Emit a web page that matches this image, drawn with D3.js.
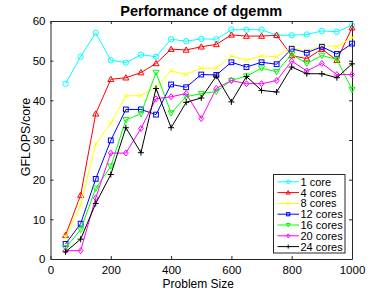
<!DOCTYPE html>
<html>
<head>
<meta charset="utf-8">
<script src="https://cdn.jsdelivr.net/npm/d3@7"></script>
<style>
  html, body { margin: 0; padding: 0; background: #fff; }
  svg { display: block; }
</style>
</head>
<body>
<div id="chart"></div>
<script>
// problem sizes
const sizes = [50, 100, 150, 200, 250, 300, 350, 400, 450, 500,
  550, 600, 650, 700, 750, 800, 850, 900, 950, 1000];

const core1 = [44.2, 51.0, 57.0, 50.1, 49.5, 51.5, 51.0, 55.4, 54.9, 55.5,
  55.4, 57.8, 57.8, 57.8, 56.4, 56.4, 56.6, 57.5, 57.3, 58.9];
const core4 = [6.0, 16.1, 36.6, 45.3, 45.7, 47.0, 49.3, 52.9, 52.7, 53.5,
  54.1, 56.5, 56.2, 56.2, 56.4, 51.3, 50.5, 52.9, 50.1, 58.3];
const core8 = [5.5, 13.7, 29.0, 34.2, 41.1, 41.2, 43.3, 47.4, 46.5, 48.1,
  48.1, 51.2, 50.1, 51.2, 51.0, 53.4, 52.3, 53.9, 53.5, 55.8];
const core12 = [3.8, 8.9, 20.2, 29.9, 37.7, 37.7, 36.4, 44.0, 43.3, 46.5,
  46.4, 49.6, 48.4, 49.6, 49.1, 53.0, 52.0, 53.5, 51.7, 54.3];
const core16 = [2.8, 7.4, 17.8, 23.4, 35.1, 36.6, 47.0, 36.8, 40.9, 41.7,
  42.2, 45.0, 46.1, 48.1, 47.2, 51.6, 49.3, 51.3, 50.3, 42.7];
const core20 = [2.1, 2.1, 15.4, 26.7, 26.7, 32.9, 40.4, 40.9, 41.7, 35.4,
  43.0, 45.0, 44.2, 44.2, 45.0, 49.9, 47.4, 49.3, 46.5, 46.5];
const core24 = [1.8, 5.0, 14.0, 21.3, 33.1, 26.8, 43.0, 33.1, 39.5, 40.6,
  46.1, 39.6, 46.0, 42.5, 42.1, 48.4, 46.7, 46.7, 45.7, 49.2];

const seriesNames = ["1 core", "4 cores", "8 cores", "12 cores", "16 cores", "20 cores", "24 cores"];
const seriesValues = [core1, core4, core8, core12, core16, core20, core24];
const seriesColors = ["#00ffff", "#ff0000", "#ffff00", "#0000ff", "#00ff00", "#ff00ff", "#000000"];
const seriesMarkers = ["circle", "triUp", "cross", "square", "triDown", "diamond", "plus"];

const xTicks = [0, 200, 400, 600, 800, 1000];
const yTicks = [0, 10, 20, 30, 40, 50, 60];

const W = 389, H = 292;
const margin = { top: 21, right: 37, bottom: 33, left: 50.5 };
const fontFamily = '"Liberation Sans", Arial, Helvetica, sans-serif';

const svg = d3.select("#chart").append("svg")
  .attr("width", W).attr("height", H)
  .style("font-family", fontFamily);

svg.append("rect").attr("width", W).attr("height", H).attr("fill", "#fff");

const x = d3.scaleLinear().domain([0, 1000]).range([margin.left, W - margin.right]);
const y = d3.scaleLinear().domain([0, 60]).range([H - margin.bottom, margin.top]);

// axes, MATLAB style: ticks point inward, box around
const tickLen = 3;
const axisColor = "#262626";
const fmt = d3.format("d");

const axBottom = svg.append("g")
  .attr("transform", `translate(0,${y(0)})`)
  .call(d3.axisBottom(x).tickValues(xTicks).tickFormat(fmt)
    .tickSizeInner(-tickLen).tickSizeOuter(0).tickPadding(6.5));
const axTop = svg.append("g")
  .attr("transform", `translate(0,${y(60)})`)
  .call(d3.axisTop(x).tickValues(xTicks).tickSizeInner(-tickLen).tickSizeOuter(0).tickFormat(""));
const axLeft = svg.append("g")
  .attr("transform", `translate(${x(0)},0)`)
  .call(d3.axisLeft(y).tickValues(yTicks).tickFormat(fmt)
    .tickSizeInner(-tickLen).tickSizeOuter(0).tickPadding(5));
const axRight = svg.append("g")
  .attr("transform", `translate(${x(1000)},0)`)
  .call(d3.axisRight(y).tickValues(yTicks).tickSizeInner(-tickLen).tickSizeOuter(0).tickFormat(""));

[axBottom, axTop, axLeft, axRight].forEach((g) => {
  g.selectAll("path.domain").attr("stroke", axisColor).attr("stroke-width", 1);
  g.selectAll("line").attr("stroke", axisColor).attr("stroke-width", 1);
  g.selectAll("text").attr("fill", "#000").attr("font-size", 11.5).attr("font-family", fontFamily);
});

// lines + markers
const line = d3.line().x((d) => x(d[0])).y((d) => y(d[1]));

function drawMarker(g, type, cx, cy, color, s) {
  const r = s;
  if (type === "circle") {
    g.append("circle").attr("cx", cx).attr("cy", cy).attr("r", r * 0.9)
      .attr("fill", "none").attr("stroke", color);
  } else if (type === "square") {
    g.append("rect").attr("x", cx - r * 0.8).attr("y", cy - r * 0.8)
      .attr("width", r * 1.6).attr("height", r * 1.6)
      .attr("fill", "none").attr("stroke", color);
  } else if (type === "triUp") {
    g.append("path")
      .attr("d", `M${cx},${cy - r}L${cx + r},${cy + r * 0.75}L${cx - r},${cy + r * 0.75}Z`)
      .attr("fill", "none").attr("stroke", color);
  } else if (type === "triDown") {
    g.append("path")
      .attr("d", `M${cx},${cy + r}L${cx + r},${cy - r * 0.75}L${cx - r},${cy - r * 0.75}Z`)
      .attr("fill", "none").attr("stroke", color);
  } else if (type === "diamond") {
    g.append("path")
      .attr("d", `M${cx},${cy - r}L${cx + r * 0.8},${cy}L${cx},${cy + r}L${cx - r * 0.8},${cy}Z`)
      .attr("fill", "none").attr("stroke", color);
  } else if (type === "cross") {
    const a = r * 0.8;
    g.append("path")
      .attr("d", `M${cx - a},${cy - a}L${cx + a},${cy + a}M${cx - a},${cy + a}L${cx + a},${cy - a}`)
      .attr("stroke", color);
  } else if (type === "plus") {
    g.append("path")
      .attr("d", `M${cx - r},${cy}L${cx + r},${cy}M${cx},${cy - r}L${cx},${cy + r}`)
      .attr("stroke", color);
  }
}

const plot = svg.append("g");
seriesValues.forEach((vals, i) => {
  const pts = sizes.map((s, j) => [s, vals[j]]);
  const g = plot.append("g");
  g.append("path").attr("d", line(pts))
    .attr("fill", "none").attr("stroke", seriesColors[i]).attr("stroke-width", 1);
  pts.forEach((p) => drawMarker(g, seriesMarkers[i], x(p[0]), y(p[1]), seriesColors[i], 3));
});

// title
svg.append("text")
  .attr("x", (x(0) + x(1000)) / 2).attr("y", 15.5)
  .attr("text-anchor", "middle")
  .attr("font-size", 14.5).attr("font-weight", "bold")
  .text("Performance of dgemm");

// axis labels
svg.append("text")
  .attr("x", (x(0) + x(1000)) / 2 - 3).attr("y", 288)
  .attr("text-anchor", "middle")
  .attr("font-size", 12)
  .text("Problem Size");

svg.append("text")
  .attr("transform", `translate(29.5,${(y(0) + y(60)) / 2 - 3}) rotate(-90)`)
  .attr("text-anchor", "middle")
  .attr("font-size", 12.5)
  .text("GFLOPS/core");

// legend
const legX = 273.5, legY = 174.5, legW = 71.5, legH = 78.5, rowH = 10.8;
const leg = svg.append("g");
leg.append("rect").attr("x", legX).attr("y", legY).attr("width", legW).attr("height", legH)
  .attr("fill", "#fff").attr("stroke", axisColor).attr("stroke-width", 1);
seriesNames.forEach((name, i) => {
  const cy = legY + 7.3 + i * rowH;
  leg.append("line").attr("x1", legX + 4).attr("x2", legX + 25.5)
    .attr("y1", cy).attr("y2", cy).attr("stroke", seriesColors[i]).attr("stroke-width", 1);
  drawMarker(leg, seriesMarkers[i], legX + 14.7, cy, seriesColors[i], 2);
  leg.append("text").attr("x", legX + 27).attr("y", cy).attr("dy", "0.36em")
    .attr("font-size", 11).text(name);
});
</script>
</body>
</html>
